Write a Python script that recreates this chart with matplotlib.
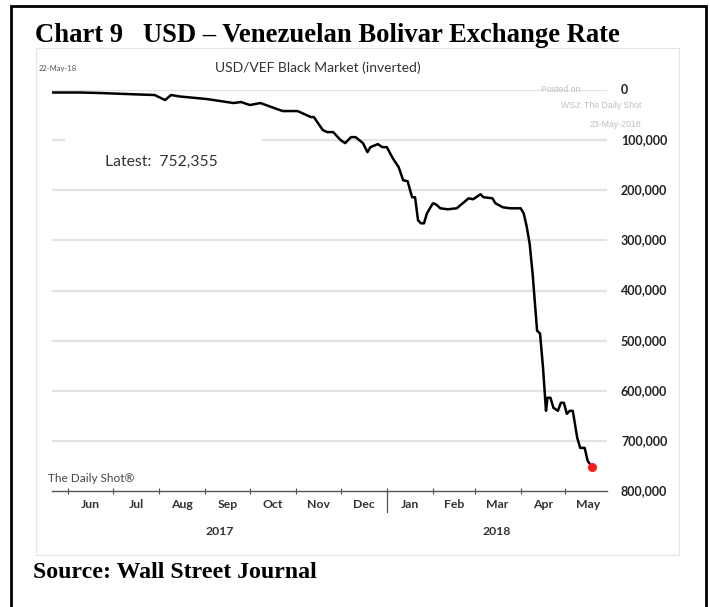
import matplotlib
matplotlib.use("Agg")
import matplotlib.pyplot as plt
from matplotlib.patches import Rectangle
import pandas as pd

# ---- data ----
dates = ["2017-05-21", "2017-06-09", "2017-06-22", "2017-07-19", "2017-07-29", "2017-08-05",
         "2017-08-09", "2017-08-15", "2017-09-02", "2017-09-20", "2017-09-25", "2017-10-01",
         "2017-10-08", "2017-10-23", "2017-11-02", "2017-11-11", "2017-11-13", "2017-11-19",
         "2017-11-22", "2017-11-26", "2017-12-01", "2017-12-04", "2017-12-08", "2017-12-11",
         "2017-12-16", "2017-12-19", "2017-12-21", "2017-12-26", "2017-12-29", "2018-01-01",
         "2018-01-05", "2018-01-09", "2018-01-12", "2018-01-15", "2018-01-18", "2018-01-20",
         "2018-01-22", "2018-01-24", "2018-01-26", "2018-01-28", "2018-02-01", "2018-02-03",
         "2018-02-06", "2018-02-11", "2018-02-17", "2018-02-21", "2018-02-25", "2018-02-28",
         "2018-03-05", "2018-03-07", "2018-03-13", "2018-03-15", "2018-03-20", "2018-03-25",
         "2018-04-01", "2018-04-03", "2018-04-05", "2018-04-07", "2018-04-09", "2018-04-12",
         "2018-04-14", "2018-04-16", "2018-04-18", "2018-04-19", "2018-04-21", "2018-04-23",
         "2018-04-26", "2018-04-28", "2018-04-30", "2018-05-02", "2018-05-04", "2018-05-06",
         "2018-05-09", "2018-05-11", "2018-05-14", "2018-05-16", "2018-05-19"]
rates = [5000, 5000, 6000, 9000, 10000, 20000,
         10000, 13000, 18000, 26000, 24000, 30000,
         26000, 42000, 42000, 54000, 54000, 80000,
         84000, 84000, 100000, 106000, 94000, 94000,
         106000, 124000, 114000, 108000, 114000, 114000,
         136000, 154000, 180000, 182000, 214000, 214000,
         260000, 266000, 266000, 246000, 226000, 228000,
         236000, 238000, 236000, 226000, 216000, 218000,
         208000, 214000, 216000, 226000, 234000, 236000,
         236000, 246000, 272000, 306000, 366000, 480000,
         486000, 554000, 640000, 614000, 614000, 634000,
         640000, 624000, 624000, 646000, 640000, 640000,
         694000, 714000, 714000, 740000, 752355]
y_ticks = [0, 100000, 200000, 300000, 400000, 500000, 600000, 700000, 800000]
month_labels = ["Jun", "Jul", "Aug", "Sep", "Oct", "Nov", "Dec",
                "Jan", "Feb", "Mar", "Apr", "May"]
month_starts = ["2017-06-01", "2017-07-01", "2017-08-01", "2017-09-01", "2017-10-01",
                "2017-11-01", "2017-12-01", "2018-01-01", "2018-02-01", "2018-03-01",
                "2018-04-01", "2018-05-01", "2018-06-01"]
years = ["2017", "2018"]
latest_text = "Latest:  752,355"

W, H = 710, 607
fig = plt.figure(figsize=(W / 100, H / 100), dpi=100)
fig.patch.set_facecolor("white")

def fx(px):
    return px / W

def fy(py):
    return 1 - py / H

# outer black frame and inner light panel
fig.add_artist(Rectangle((fx(11), fy(640)), fx(706) - fx(11), fy(6) - fy(640),
                         transform=fig.transFigure, fill=False, edgecolor="black", lw=2.0))
fig.add_artist(Rectangle((fx(36), fy(555)), fx(679) - fx(36), fy(48) - fy(555),
                         transform=fig.transFigure, fill=False, edgecolor="#e4e4e4", lw=0.8))

x0, x1 = pd.Timestamp("2017-05-21"), pd.Timestamp("2018-05-29")
jan1 = pd.Timestamp("2018-01-01")

ax = fig.add_axes([fx(52), fy(491), fx(607) - fx(52), fy(90) - fy(491)])
ax.set_facecolor("none")
d = pd.to_datetime(dates)
ax.set_xlim(x0, x1)
ax.set_ylim(800000, 0)

for v in y_ticks[:-1]:
    ax.axhline(v, color="#e3e3e3", lw=1.6, zorder=1)

ax.plot(d, rates, color="black", lw=1.8, zorder=3, solid_joinstyle="round")
ax.plot(d[-1:], rates[-1:], "o", color="#ff1a1a", ms=5.5, zorder=4)

for s in ["top", "left", "right"]:
    ax.spines[s].set_visible(False)
ax.spines["bottom"].set_color("#555555")
ax.spines["bottom"].set_linewidth(1.0)

ms = pd.to_datetime(month_starts)
ax.set_xticks(ms[:-1])
ax.set_xticklabels([])
ax.tick_params(axis="x", direction="inout", length=5, width=0.8, color="#555555")
ax.set_yticks([])

xt = ax.get_xaxis_transform()
for i, lab in enumerate(month_labels):
    mid = ms[i] + (ms[i + 1] - ms[i]) / 2
    ax.text(mid, -0.033, lab, transform=xt, ha="center", va="center",
            fontsize=8.8, fontweight="bold", color="#333333", family="Lato")

ax.plot([jan1, jan1], [0, -0.052], transform=xt, color="#555555", lw=0.9, clip_on=False)
ax.text(x0 + (jan1 - x0) / 2, -0.102, years[0], transform=xt, ha="center", va="center",
        fontsize=8.8, fontweight="bold", color="#333333", family="Lato")
ax.text(jan1 + (x1 - jan1) / 2, -0.102, years[1], transform=xt, ha="center", va="center",
        fontsize=8.8, fontweight="bold", color="#333333", family="Lato")

yt = ax.get_yaxis_transform()
for v in y_ticks:
    ax.text(1.025, v, f"{v:,}", transform=yt, ha="left", va="center",
            fontsize=9, fontweight="bold", color="#222222", family="Lato")

# white box behind "Latest" text, covering part of the 100,000 gridline
fig.add_artist(Rectangle((fx(65), fy(184)), fx(262) - fx(65), fy(134) - fy(184),
                         transform=fig.transFigure, facecolor="white", edgecolor="none",
                         zorder=2))
fig.text(fx(105), fy(162), latest_text, ha="left", va="center", fontsize=11.3,
         color="#333333", family="Lato", zorder=3)

fig.text(fx(318), fy(68), "USD/VEF Black Market (inverted)", ha="center", va="center",
         fontsize=10, color="#333333", family="Lato")
fig.text(fx(58), fy(69), "22-May-18", ha="center", va="center", fontsize=5.5,
         color="#555555", family="Lato")
fig.text(fx(541), fy(89), "Posted on", ha="left", va="center", fontsize=6.3,
         color="#c0c0c0", family="Liberation Sans")
fig.text(fx(641), fy(106), "WSJ: The Daily Shot", ha="right", va="center", fontsize=6.3,
         color="#c0c0c0", family="Liberation Sans")
fig.text(fx(641), fy(124), "23-May-2018", ha="right", va="center", fontsize=6.3,
         color="#c0c0c0", family="Liberation Sans")
fig.text(fx(48), fy(478), "The Daily Shot\u00ae", ha="left", va="center", fontsize=8.5,
         color="#444444", family="Lato")

fig.text(fx(35), fy(42), "Chart 9   USD \u2013 Venezuelan Bolivar Exchange Rate", ha="left",
         va="baseline", fontsize=19.2, fontweight="bold", color="black",
         family="Liberation Serif")
fig.text(fx(33), fy(578), "Source: Wall Street Journal", ha="left", va="baseline",
         fontsize=17.2, fontweight="bold", color="black", family="Liberation Serif")

fig.savefig("out.png", dpi=100)
